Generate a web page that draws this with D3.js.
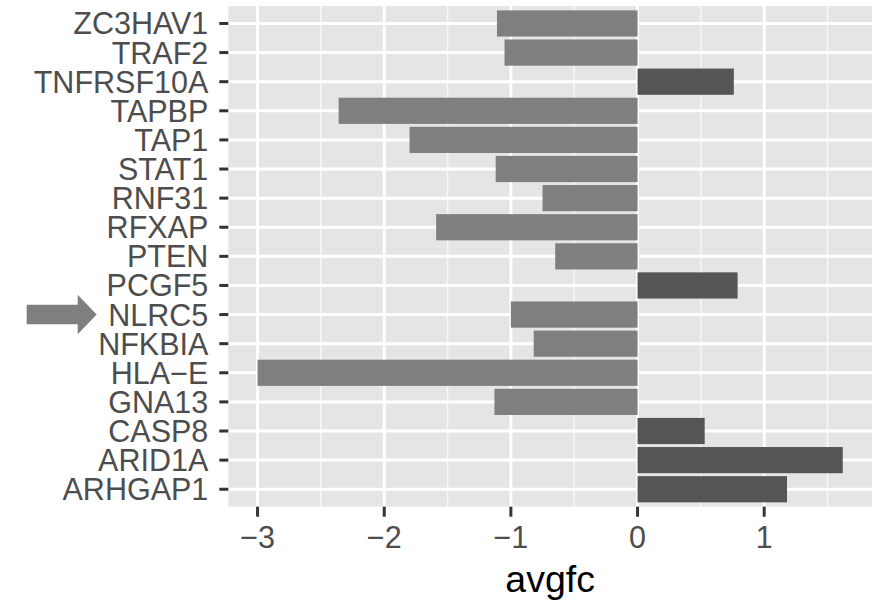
<!DOCTYPE html>
<html>
<head>
<meta charset="utf-8">
<script src="https://cdn.jsdelivr.net/npm/d3@7"></script>
<style>
  body{margin:0;background:#fff;}
  text{font-family:"Liberation Sans", Arial, Helvetica, sans-serif;}
</style>
</head>
<body>
<div class="plot"></div>
<script>
// genes, bottom to top as ggplot puts them
var genes=["ARHGAP1","ARID1A","CASP8","GNA13","HLA\u2212E","NFKBIA","NLRC5","PCGF5","PTEN","RFXAP","RNF31","STAT1","TAP1","TAPBP","TNFRSF10A","TRAF2","ZC3HAV1"];
var avgfc=[1.18,1.62,0.53,-1.13,-3.0,-0.82,-1.0,0.79,-0.65,-1.59,-0.75,-1.12,-1.8,-2.36,0.76,-1.05,-1.11];
var xticks=[-3,-2,-1,0,1];
var xtickLabels=["\u22123","\u22122","\u22121","0","1"];
var minorTicks=[-2.5,-1.5,-0.5,0.5,1.5];
var marked="NLRC5";

function plotResults(){
  var W=872, H=600;
  var left=228.3, right=872, top=6, bottom=506.7;

  var svg=d3.select(".plot").append("svg")
    .attr("width", W)
    .attr("height", H);

  var lo=d3.min(avgfc), hi=d3.max(avgfc);
  var pad=(hi-lo)*0.05;
  var x=d3.scaleLinear()
    .domain([lo-pad, hi+pad])
    .range([left, right]);

  var y=d3.scaleBand()
    .domain(genes.slice().reverse())
    .range([top, bottom])
    .paddingInner(0.1)
    .paddingOuter(0.15);

  var bw=y.bandwidth();
  function yc(g){return y(g)+bw/2;}

  // panel
  svg.append("rect")
    .attr("x", left).attr("y", top)
    .attr("width", right-left).attr("height", bottom-top)
    .attr("fill", "#e5e5e5");

  var grid=svg.append("g");
  grid.selectAll(".minor")
    .data(minorTicks.filter(function(d){return x(d)>left && x(d)<right;}))
    .enter().append("line")
    .attr("x1", function(d){return x(d)}).attr("x2", function(d){return x(d)})
    .attr("y1", top).attr("y2", bottom)
    .attr("stroke", "#f7f7f7").attr("stroke-width", 1.6);
  grid.selectAll(".vmajor")
    .data(xticks)
    .enter().append("line")
    .attr("x1", function(d){return x(d)}).attr("x2", function(d){return x(d)})
    .attr("y1", top).attr("y2", bottom)
    .attr("stroke", "#fff").attr("stroke-width", 3);
  grid.selectAll(".hmajor")
    .data(genes)
    .enter().append("line")
    .attr("x1", left).attr("x2", right)
    .attr("y1", yc).attr("y2", yc)
    .attr("stroke", "#fff").attr("stroke-width", 3);

  // bars
  svg.append("g").selectAll("rect")
    .data(genes)
    .enter().append("rect")
    .attr("x", function(d,i){return x(Math.min(0, avgfc[i]))})
    .attr("width", function(d,i){return Math.abs(x(avgfc[i])-x(0))})
    .attr("y", function(d){return y(d)})
    .attr("height", bw)
    .attr("fill", function(d,i){return avgfc[i]>0 ? "#555555" : "#7f7f7f"});

  // y axis
  var ya=svg.append("g");
  ya.selectAll("line")
    .data(genes)
    .enter().append("line")
    .attr("x1", left-9).attr("x2", left)
    .attr("y1", yc).attr("y2", yc)
    .attr("stroke", "#333").attr("stroke-width", 3);
  ya.selectAll("text")
    .data(genes)
    .enter().append("text")
    .attr("x", left-20)
    .attr("y", yc)
    .attr("dy", "0.36em")
    .attr("text-anchor", "end")
    .attr("font-size", "30.5px")
    .attr("fill", "#4d4d4d")
    .text(function(d){return d});

  // x axis
  var xa=svg.append("g");
  xa.selectAll("line")
    .data(xticks)
    .enter().append("line")
    .attr("x1", function(d){return x(d)}).attr("x2", function(d){return x(d)})
    .attr("y1", bottom).attr("y2", bottom+10)
    .attr("stroke", "#333").attr("stroke-width", 3);
  xa.selectAll("text")
    .data(xticks)
    .enter().append("text")
    .attr("x", function(d){return x(d)})
    .attr("y", 548)
    .attr("text-anchor", "middle")
    .attr("font-size", "30.5px")
    .attr("fill", "#4d4d4d")
    .text(function(d,i){return xtickLabels[i]});

  svg.append("text")
    .attr("x", (left+right)/2)
    .attr("y", 592)
    .attr("text-anchor", "middle")
    .attr("font-size", "37.5px")
    .attr("fill", "#000")
    .text("avgfc");

  // arrow pointing at the marked gene label
  var ay=yc(marked);
  var tipX=96.7, tail=26.7, headLen=19, shaft=9.7, head=19.7;
  svg.append("path")
    .attr("d", "M"+tail+","+(ay-shaft)+
      " L"+(tipX-headLen)+","+(ay-shaft)+
      " L"+(tipX-headLen)+","+(ay-head)+
      " L"+tipX+","+ay+
      " L"+(tipX-headLen)+","+(ay+head)+
      " L"+(tipX-headLen)+","+(ay+shaft)+
      " L"+tail+","+(ay+shaft)+" Z")
    .attr("fill", "#7f7f7f");
}

plotResults();
</script>
</body>
</html>
